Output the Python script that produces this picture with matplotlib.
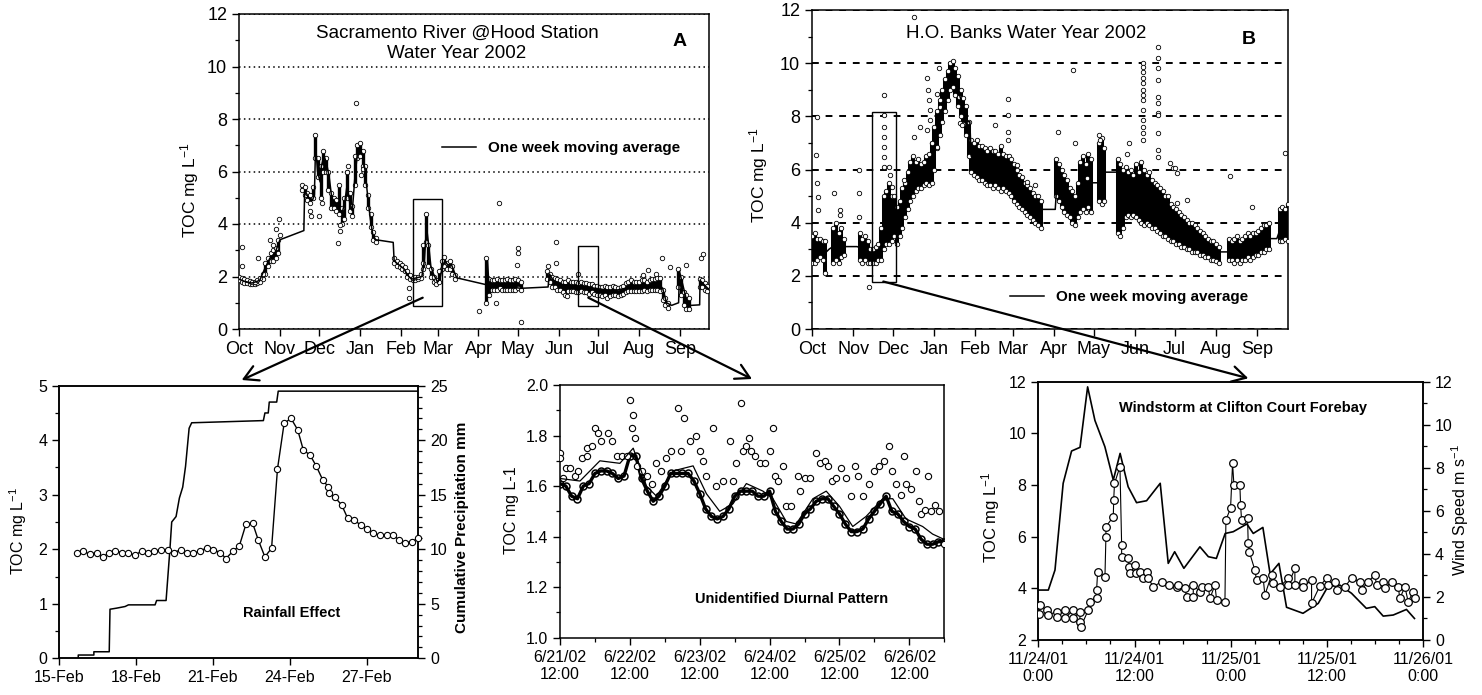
import numpy as np
import matplotlib
matplotlib.use("Agg")
import matplotlib.pyplot as plt
from matplotlib.patches import Rectangle, FancyArrowPatch
from matplotlib.ticker import MultipleLocator, FormatStrFormatter

plt.rcParams['font.family'] = ['Liberation Sans', 'DejaVu Sans']
plt.rcParams['mathtext.fontset'] = 'custom'
plt.rcParams['mathtext.rm'] = 'Liberation Sans'
plt.rcParams['mathtext.it'] = 'Liberation Sans:italic'
plt.rcParams['mathtext.bf'] = 'Liberation Sans:bold'
plt.rcParams['axes.linewidth'] = 1.1

nan = float('nan')

# ---------------- Panel A: Sacramento River @ Hood (2-day samples, low/high envelope) -------------
MONTHS = ['Oct', 'Nov', 'Dec', 'Jan', 'Feb', 'Mar', 'Apr', 'May', 'Jun', 'Jul', 'Aug', 'Sep']
MONTH_START = [0, 31, 61, 92, 123, 151, 182, 212, 243, 273, 304, 335]

A_LO = [1.85, 1.8, 1.75, 1.75, 1.72, 1.72, 1.72, 1.75, 1.8, 1.9, 2.1, 2.4, 2.6, 2.6, 2.7, 2.9,
        nan, nan, nan, nan, nan, nan, nan, nan,
        5.3, 5.1, 4.9, 4.8, 5.0, 6.5, 5.8, 5.0, 6.0, 6.0, 5.3, 4.6, 4.6, 4.5, 4.4, 4.0, 4.2, 5.0, 4.5, 4.3,
        5.5, 6.5, 6.6, 6.2, 5.5, 4.6, 3.9, 3.4, 3.3, nan, nan, nan, nan, nan, nan,
        2.5, 2.4, 2.35, 2.3, 2.2, 2.0, 1.9, 1.85, 1.88, 1.9,
        1.95, 2.3, 3.3, 2.4, 2.0, 1.8, 1.7, 1.8, 2.3, 2.4, 2.3, 2.3, 2.1, 1.9,
        nan, nan, nan, nan, nan, nan, nan, nan, nan, nan, nan,
        1.0, 1.3, 1.5, 1.5, 1.5, 1.55, 1.5, 1.5, 1.5, 1.5, 1.5, 1.5, 1.55, 1.5,
        nan, nan, nan, nan, nan, nan, nan, nan, nan,
        1.9, 1.8, 1.6, 1.6, 1.5, 1.5, 1.4, 1.3, 1.45, 1.45, 1.45, 1.4, 1.4, 1.45, 1.4, 1.4, 1.35, 1.4,
        1.35, 1.3, 1.3, 1.25, 1.3, 1.2, 1.25, 1.3, 1.3, 1.25, 1.3, 1.35, 1.4, 1.45, 1.45, 1.45, 1.45,
        1.45, 1.45, 1.5, 1.45, 1.5, 1.5, 1.5, 1.5, 1.45,
        1.1, 0.9, 0.8, nan, nan, nan, 1.6, 1.3, 0.9, 0.75, 0.75, nan, nan, nan, 1.6, 1.6, 1.5, 1.45]
A_HI = [2.0, 1.95, 1.9, 1.85, 1.82, 1.8, 1.8, 1.85, 1.95, 2.1, 2.5, 2.7, 2.9, 3.0, 3.1, 3.4,
        nan, nan, nan, nan, nan, nan, nan, nan,
        5.5, 5.4, 5.2, 5.1, 5.4, 7.4, 6.5, 6.2, 6.8, 6.5, 6.0, 5.2, 5.0, 4.9, 5.5, 4.6, 5.0, 6.0, 5.2, 4.7,
        6.6, 7.0, 7.1, 6.8, 6.2, 5.1, 4.4, 3.7, 3.45, nan, nan, nan, nan, nan, nan,
        2.7, 2.6, 2.5, 2.45, 2.35, 2.2, 2.05, 1.95, 1.98, 2.0,
        2.1, 3.2, 4.4, 3.2, 2.3, 2.0, 1.85, 2.2, 2.6, 2.75, 2.5, 2.6, 2.4, 2.05,
        nan, nan, nan, nan, nan, nan, nan, nan, nan, nan, nan,
        2.7, 1.9, 1.85, 1.85, 1.9, 1.85, 1.85, 1.85, 1.9, 1.85, 1.85, 1.9, 1.85, 1.8,
        nan, nan, nan, nan, nan, nan, nan, nan, nan,
        2.2, 2.1, 2.0, 1.95, 1.9, 1.85, 1.8, 1.8, 1.85, 1.8, 1.8, 1.8, 1.75, 1.8, 1.75, 1.75, 1.7, 1.7,
        1.65, 1.65, 1.6, 1.6, 1.65, 1.6, 1.6, 1.65, 1.6, 1.55, 1.6, 1.65, 1.75, 1.8, 1.85, 1.8, 1.8,
        1.8, 1.85, 1.85, 1.8, 1.85, 1.9, 1.9, 1.95, 1.95,
        1.5, 1.2, 1.0, nan, nan, nan, 2.3, 2.0, 1.4, 1.3, 1.2, nan, nan, nan, 1.9, 1.85, 1.75, 1.65]

MA_A_DAY = [0, 3.9, 9.8, 15.7, 19.6, 23.5, 27.4, 31.1, 49.3, 49.9, 52.9, 55.8, 57.3, 58.2, 59.7, 61.7,
            62.6, 64.6, 66.6, 68.5, 70.5, 73.4, 76.3, 78.3, 80.3, 82.2, 84.2, 86.1, 88.1, 90.0, 92.0,
            94.0, 95.9, 97.9, 99.8, 101.8, 104.0, 117.2, 117.9, 121.4, 125.3, 128.2, 131.1, 139.0,
            140.9, 142.5, 143.9, 145.8, 147.8, 150.7, 152.7, 154.6, 156.6, 158.5, 161.5, 163.4, 165.4,
            188.6, 188.9, 189.9, 214.3, 234.9, 235.9, 238.8, 244.7, 264.2, 283.8, 293.6, 319.1, 322.0,
            324.9, 328.8, 334.1, 334.7, 337.7, 340.6, 343.5, 350.1, 350.4, 354.3, 357.2]
MA_A_VAL = [1.9, 1.82, 1.75, 1.85, 2.3, 2.7, 2.9, 3.4, 3.75, 5.3, 5.0, 4.9, 5.1, 7.0, 6.0, 5.6,
            6.2, 6.6, 6.3, 5.8, 5.0, 4.8, 4.6, 4.4, 4.8, 5.5, 4.8, 4.5, 5.8, 6.7, 6.9,
            6.6, 6.0, 5.0, 4.2, 3.55, 3.4, 3.3, 2.6, 2.45, 2.3, 2.05, 1.9, 2.0,
            2.6, 3.9, 3.3, 2.4, 2.1, 1.8, 1.9, 2.4, 2.6, 2.45, 2.45, 2.2, 1.95,
            1.68, 2.6, 1.7, 1.55, 1.6, 2.1, 1.85, 1.7, 1.6, 1.45, 1.55, 1.7, 1.55,
            1.0, 0.9, 1.0, 2.2, 1.6, 1.0, 0.9, 0.92, 1.85, 1.65, 1.5]

OUT_A_DAY = [2.1, 2.1, 14.7, 23.5, 25.5, 28.1, 31.1, 30.3, 53.8, 54.7, 60.7, 62.7, 75.0, 76.7, 76.7,
             82.5, 81.7, 88.6, 91.9, 93.0, 94.4, 129.1, 129.1, 140.0, 182.5, 195.7, 197.7, 210.9,
             212.2, 212.2, 214.1, 234.9, 241.2, 241.2, 248.9, 257.7, 310.8, 321.8, 327.4, 340.0,
             351.4, 352.6, 307.1, 317.1]
OUT_A_VAL = [3.14, 2.41, 2.72, 3.4, 3.2, 3.8, 3.6, 4.2, 4.5, 4.3, 4.3, 4.8, 3.29, 3.95, 3.72,
             6.2, 6.0, 8.62, 6.6, 5.85, 6.1, 1.55, 1.2, 2.5, 0.7, 1.0, 4.81, 2.45,
             3.1, 2.9, 0.25, 2.4, 3.3, 2.5, 1.25, 2.1, 2.25, 2.7, 2.35, 2.45,
             2.72, 2.85, 2.05, 2.1]

# ---------------- Panel B: H.O. Banks (2-day samples, low/high envelope) -------------
B_LO = [2.5, 2.5, 2.6, 2.7, 2.6, 2.1, nan, nan, 2.5, 2.6, 2.5, 2.7, 2.8, nan, nan, nan, nan, nan,
        2.6, 2.5, 2.6, 2.5, 2.5, 2.5, 2.5, 2.6, 2.6,
        3.0, 3.2, 3.2, 3.3, 3.5, 3.2, 3.5, 3.8, 4.2, 4.5, 4.8, 5.0, 5.2, 5.3, 5.3, 5.4, 5.5, 5.4, 5.5,
        6.0, 6.8, 7.3, 7.8, 8.2, 8.6, 9.0, 9.1, 8.8, 8.4, 8.0, 7.7, 7.3, 6.5, 5.9, 5.8, 5.7, 5.6, 5.6,
        5.5, 5.4, 5.4, 5.3, 5.4, 5.3, 5.2, 5.3, 5.2, 5.1, 5.0, 4.8, 4.7, 4.6, 4.5, 4.4,
        4.3, 4.2, 4.1, 4.0, 3.9, 3.8, nan, nan, nan, nan, nan, 5.0, 4.8, 4.6, 4.4, 4.3, 4.2, 4.0, 3.9,
        4.2, 4.4, 4.5, 4.4, 4.6, 4.4, nan, nan, 4.8, 4.7, 4.8, nan, nan, nan, nan,
        3.6, 3.5, 3.8, 4.2, 4.3, 4.2, 4.3, 4.2, 4.1, 4.0, 3.9, 4.0, 3.9, 3.8, 3.8, 3.7, 3.6, 3.5, 3.5, 3.4,
        3.3, 3.3, 3.2, 3.2, 3.1, 3.1, 3.0, 3.0, 2.9, 2.9, 2.9, 2.8, 2.8, 2.7, 2.7, 2.6, 2.6, 2.55, 2.5,
        nan, nan, nan, 2.6, 2.6, 2.5, 2.6, 2.5, 2.6, 2.6, 2.7, 2.6, 2.7, 2.8, 2.8, 2.9, 2.9, 3.0, 3.0,
        nan, nan, nan, 3.3, 3.3, 3.4, 3.3]
B_HI = [3.5, 3.6, 3.4, 3.4, 3.3, 3.3, nan, nan, 3.8, 4.0, 3.6, 3.8, 3.4, nan, nan, nan, nan, nan,
        3.6, 3.4, 3.5, 3.3, 3.0, 3.0, 3.1, 3.2, 3.8,
        5.0, 5.2, 5.5, 5.0, 5.0, 4.6, 4.8, 5.3, 5.5, 5.9, 6.3, 6.5, 6.3, 6.4, 6.2, 6.3, 6.5, 6.6, 7.0,
        7.6, 8.2, 8.6, 9.0, 9.4, 9.7, 10.0, 10.1, 9.8, 9.5, 9.0, 8.7, 8.4, 7.8, 7.1, 7.0, 7.1, 6.9, 6.9,
        6.8, 6.7, 6.8, 6.7, 6.7, 6.6, 6.9, 6.6, 6.5, 6.5, 6.4, 6.2, 6.0, 5.8, 5.7, 5.5,
        5.4, 5.3, 5.1, 5.0, 5.0, 4.8, nan, nan, nan, nan, nan, 6.4, 6.2, 6.0, 5.8, 5.6, 5.3, 5.2, 5.0,
        5.5, 6.3, 6.5, 6.2, 6.6, 6.4, nan, nan, 7.0, 7.2, 6.8, nan, nan, nan, nan,
        6.4, 6.2, 6.0, 6.1, 5.9, 6.0, 5.8, 6.2, 5.9, 6.3, 6.0, 5.8, 5.9, 5.6, 5.5, 5.4, 5.3, 5.2, 5.0, 5.0,
        4.7, 4.6, 4.5, 4.4, 4.3, 4.2, 4.1, 4.0, 4.0, 3.9, 3.8, 3.7, 3.6, 3.5, 3.4, 3.3, 3.3, 3.2, 3.1,
        nan, nan, nan, 3.4, 3.3, 3.4, 3.5, 3.3, 3.4, 3.5, 3.6, 3.5, 3.6, 3.6, 3.7, 3.8, 3.9, 3.9, 4.0,
        nan, nan, nan, 4.5, 4.6, 4.5, 4.7]

MA_B_DAY = [0, 4.9, 10.8, 12.8, 15.7, 23.6, 33.9, 39.3, 45.2, 51.0, 55.0, 58.9, 64.8, 70.7, 76.6,
            84.4, 90.3, 94.2, 98.2, 102.1, 106.0, 110.0, 113.9, 116.8, 118.8, 119.8, 127.6, 137.4,
            147.3, 157.1, 166.9, 172.8, 183.1, 184.6, 192.4, 198.3, 204.2, 210.1, 215.7, 217.9,
            220.7, 229.4, 231.7, 239.5, 249.4, 259.2, 269.0, 278.8, 288.6, 298.4, 307.3, 313.5,
            324.0, 333.8, 344.9, 349.9, 353.4, 358.3]
MA_B_VAL = [3.0, 3.0, 2.9, 3.0, 3.1, 3.1, 3.1, 3.0, 2.8, 2.9, 3.5, 4.0, 4.0, 4.8, 5.6,
            5.8, 6.1, 7.3, 8.3, 9.0, 9.6, 9.0, 8.3, 7.8, 7.8, 6.5, 6.2, 6.0,
            5.8, 5.1, 4.6, 4.5, 4.5, 5.7, 5.0, 4.5, 5.4, 5.5, 5.5, 5.9,
            5.9, 5.9, 5.0, 5.0, 5.0, 4.5, 4.1, 3.7, 3.4, 3.0, 2.9, 2.9,
            3.0, 3.2, 3.4, 3.4, 3.9, 4.0]

OUT_B_DAY = [3.7, 3.2, 3.7, 4.2, 4.2, 16.3, 20.8, 21.3, 35.1, 35.6, 35.1, 42.6, 53.9, 53.9, 53.9,
             54.4, 54.4, 53.9, 54.4, 57.6, 58.4, 60.2, 68.9, 76.5, 76.5, 81.5, 86.5, 87.3, 87.8,
             88.5, 89.0, 86.5, 90.3, 94.0, 95.3, 94.0, 96.5, 110.3, 111.6, 112.8, 137.9, 147.9,
             147.9, 147.9, 147.5, 154.2, 161.8, 168.0, 185.5, 197.6, 196.8, 206.8, 215.7, 217.0,
             238.3, 237.0,
             249.5, 249.5, 249.5, 249.5, 249.5, 249.5, 249.5, 249.5, 249.5, 249.5, 249.5, 249.5, 249.5,
             260.7, 260.7, 260.7, 260.7, 260.7, 260.7, 260.7, 260.7, 260.7, 260.7, 260.7,
             272.0, 269.6, 274.6, 314.7, 331.0, 356.1, 282.1, 274.6, 273.3]
OUT_B_VAL = [7.99, 6.55, 5.48, 4.98, 4.48, 5.13, 4.48, 4.29, 5.98, 5.1, 4.23, 1.57, 8.8, 8.05, 7.6,
             7.23, 6.86, 6.48, 6.1, 6.1, 5.79, 5.35, 5.6, 11.75, 7.23, 7.6, 9.43, 9.0, 8.6,
             8.24, 7.86, 7.49, 7.0, 6.86, 9.8, 8.84, 8.36, 8.74, 7.74, 7.67, 7.67, 8.65,
             8.05, 7.42, 7.11, 6.17, 5.54, 5.42, 7.42, 6.98, 9.74, 5.67, 7.3, 7.1,
             6.98, 6.6,
             10.0, 9.87, 9.68, 9.43, 9.24, 8.99, 8.8, 8.61, 8.24, 7.86, 7.61, 7.36, 7.11,
             10.62, 10.18, 9.8, 9.37, 8.74, 8.49, 8.11, 8.05, 7.36, 6.73, 6.48,
             6.04, 6.23, 5.86, 5.77, 4.58, 6.61, 4.85, 4.73, 6.04]

# ---------------- Rainfall effect (days after 15-Feb) -------------
RAIN_TICKS = ['15-Feb', '18-Feb', '21-Feb', '24-Feb', '27-Feb']
RAIN_TOC_DAY = [0.68, 0.94, 1.20, 1.46, 1.69, 1.95, 2.17, 2.43, 2.70, 2.96, 3.22, 3.45, 3.71, 3.97,
                4.23, 4.48, 4.74, 4.97, 5.23, 5.49, 5.76, 6.02, 6.28, 6.51, 6.77, 7.03, 7.29, 7.55,
                7.77, 8.03, 8.29, 8.52, 8.78, 9.05, 9.31, 9.53, 9.79, 10.03, 10.29, 10.51, 10.55,
                10.77, 11.03, 11.26, 11.52, 11.77, 12.01, 12.27, 12.53, 12.79, 13.02, 13.28, 13.50,
                13.76, 14.02]
RAIN_TOC = [1.93, 1.96, 1.91, 1.94, 1.86, 1.93, 1.97, 1.94, 1.93, 1.89, 1.97, 1.93, 1.96, 1.99,
            1.99, 1.94, 1.99, 1.93, 1.93, 1.96, 2.03, 1.99, 1.94, 1.83, 1.96, 2.06, 2.46, 2.48,
            2.17, 1.86, 2.02, 3.47, 4.31, 4.40, 4.19, 3.82, 3.73, 3.53, 3.27, 3.14, 3.04,
            2.95, 2.81, 2.57, 2.54, 2.44, 2.38, 2.29, 2.26, 2.26, 2.26, 2.17, 2.12,
            2.14, 2.2]
PRECIP_DAY = [0.74, 0.74, 1.35, 1.35, 1.95, 1.98, 2.24, 2.57, 2.7, 3.74, 3.8, 4.17, 4.32, 4.39, 4.56,
              4.69, 4.82, 4.93, 5.07, 5.17, 7.97, 8.03, 8.16, 8.2, 8.49, 8.55, 14.02]
PRECIP_MM = [0, 0.3, 0.3, 0.6, 0.6, 4.5, 4.6, 4.75, 4.9, 4.9, 5.3, 5.3, 10.0, 12.5, 13.0,
             14.7, 15.7, 17.6, 21.1, 21.6, 21.8, 22.5, 22.5, 23.5, 23.5, 24.5, 24.5]

# ---------------- Diurnal pattern (days after 6/21/02 12:00) -------------
DIUR_TICKS = ['6/21/02\n12:00', '6/22/02\n12:00', '6/23/02\n12:00', '6/24/02\n12:00',
              '6/25/02\n12:00', '6/26/02\n12:00']
DIUR_LOW = [1.61, 1.60, 1.56, 1.55, 1.60, 1.61, 1.65, 1.66, 1.66, 1.65, 1.63, 1.64, 1.72, 1.72,
            1.63, 1.58, 1.54, 1.56, 1.60, 1.65, 1.65, 1.65, 1.65, 1.62, 1.57, 1.51, 1.48, 1.47,
            1.48, 1.51, 1.56, 1.58, 1.58, 1.58, 1.56, 1.56, 1.58, 1.50, 1.46, 1.43, 1.43, 1.45,
            1.49, 1.51, 1.54, 1.55, 1.55, 1.52, 1.49, 1.45, 1.42, 1.42, 1.43, 1.47, 1.50, 1.53,
            1.56, 1.50, 1.49, 1.46, 1.44, 1.43, 1.39, 1.37, 1.37, 1.38, 1.38]
UP_T = [0.0, 0.0, 0.048, 0.086, 0.143, 0.214, 0.262, 0.31, 0.381, 0.381, 0.452, 0.5, 0.548, 0.586,
        0.681, 0.738, 0.81, 0.881, 0.952, 1.0, 1.024, 1.048, 1.071, 1.095, 1.167, 1.238, 1.31,
        1.381, 1.452, 1.524, 1.595, 1.69, 1.738, 1.771, 1.857, 1.952, 2.0, 2.048, 2.095, 2.19,
        2.238, 2.333, 2.438, 2.476, 2.524, 2.586, 2.619, 2.667, 2.705, 2.738, 2.786, 2.857, 2.929,
        3.01, 3.048, 3.071, 3.119, 3.19, 3.238, 3.31, 3.405, 3.429, 3.5, 3.571, 3.657, 3.714,
        3.786, 3.833, 3.895, 3.952, 4.024, 4.095, 4.167, 4.229, 4.262, 4.333, 4.419, 4.5, 4.571,
        4.643, 4.705, 4.752, 4.81, 4.881, 4.919, 4.952, 5.024, 5.095, 5.133, 5.167, 5.229, 5.262,
        5.31, 5.371, 5.429, 5.49]
UP_V = [1.73, 1.71, 1.63, 1.67, 1.67, 1.64, 1.66, 1.71, 1.72, 1.75, 1.76, 1.83, 1.81, 1.78,
        1.81, 1.78, 1.72, 1.72, 1.72, 1.94, 1.83, 1.88, 1.79, 1.68, 1.66, 1.64, 1.61,
        1.69, 1.66, 1.71, 1.74, 1.91, 1.74, 1.87, 1.78, 1.80, 1.74, 1.70, 1.64, 1.83,
        1.60, 1.62, 1.78, 1.62, 1.69, 1.93, 1.74, 1.76, 1.79, 1.74, 1.72, 1.69, 1.69,
        1.74, 1.83, 1.64, 1.62, 1.68, 1.52, 1.52, 1.64, 1.58, 1.63, 1.63, 1.73, 1.69,
        1.70, 1.68, 1.62, 1.63, 1.67, 1.63, 1.56, 1.68, 1.64, 1.56, 1.61, 1.66, 1.68,
        1.70, 1.76, 1.66, 1.61, 1.565, 1.72, 1.61, 1.59, 1.66, 1.54, 1.49, 1.505, 1.64,
        1.50, 1.525, 1.50, 1.37]
THIN_T = [0, 0.286, 0.571, 0.857, 1.048, 1.238, 1.381, 1.619, 1.905, 2.095, 2.286, 2.476, 2.667,
          2.905, 3.048, 3.238, 3.381, 3.619, 3.81, 4.0, 4.19, 4.381, 4.619, 4.762, 4.952, 5.19,
          5.333, 5.49]
THIN_V = [1.63, 1.62, 1.70, 1.69, 1.75, 1.60, 1.56, 1.66, 1.68, 1.57, 1.50, 1.53, 1.61,
          1.58, 1.55, 1.46, 1.45, 1.55, 1.58, 1.52, 1.44, 1.48, 1.55, 1.55, 1.47, 1.44,
          1.41, 1.39]

# ---------------- Windstorm (hours after 11/24/01 0:00) -------------
STORM_TICKS = ['11/24/01\n0:00', '11/24/01\n12:00', '11/25/01\n0:00', '11/25/01\n12:00',
               '11/26/01\n0:00']
WIND_H = [0, 1.25, 2.08, 3.1, 4.15, 5.2, 6.15, 7.06, 8.3, 9.35, 10.2, 11.2, 12.25, 13.5, 15.2, 16.2,
          17.0, 18.15, 20.15, 21.2, 22.2, 23.3, 24.3, 26.0, 26.8, 28.0, 28.9, 30.0, 30.95, 33.0,
          34.9, 36.1, 37.6, 39.05, 40.9, 41.95, 43.0, 44.25, 45.9, 46.9]
WIND_MS = [2.32, 2.32, 3.25, 7.28, 8.78, 8.95, 11.76, 10.2, 8.98, 7.43, 8.67, 7.12, 6.38, 6.47, 7.28,
           3.56, 4.1, 3.33, 4.33, 3.87, 3.79, 4.95, 5.03, 5.39, 4.95, 5.23, 3.07, 3.56, 1.52, 1.24,
           1.7, 2.48, 2.55, 2.17, 1.47, 1.55, 1.11, 1.16, 1.42, 1.0]
STORM_H = [0.12, 0.21, 1.04, 1.25, 2.29, 2.29, 3.32, 3.32, 4.36, 4.36, 5.19, 5.19, 5.32, 6.23, 6.44,
           7.27, 7.27, 7.4, 8.31, 8.43, 8.43, 9.35, 9.4, 9.5, 10.18, 10.39, 10.39, 11.22, 11.3, 11.42,
           12.05, 12.17, 12.67, 13.09, 13.5, 13.71, 14.33, 15.37, 16.33, 17.24, 17.45, 18.28, 18.49,
           19.32, 19.32, 20.15, 20.36, 21.19, 21.4, 22.02, 22.23, 23.27, 23.39, 23.97, 24.22, 24.39,
           25.13, 25.22, 25.34, 26.09, 26.17, 26.3, 27.0, 27.21, 28.04, 28.25, 29.08, 29.29, 30.12,
           31.16, 31.16, 31.99, 31.99, 33.03, 33.03, 34.07, 34.07, 35.1, 35.94, 36.14, 36.98, 37.18,
           38.22, 39.05, 40.09, 40.3, 41.13, 41.96, 42.17, 43.0, 43.21, 44.04, 44.87, 45.08, 45.7,
           46.12, 46.74, 46.95]
STORM_TOC = [2.99, 3.35, 3.16, 2.97, 3.1, 2.9, 3.16, 2.84, 3.16, 2.84, 3.1, 2.71, 2.52, 3.16, 3.48,
             3.61, 3.94, 4.65, 4.45, 6.0, 6.39, 6.77, 7.42, 8.06, 8.71, 5.68, 5.23, 5.16, 4.84, 4.58,
             4.9, 4.58, 4.65, 4.39, 4.65, 4.39, 4.06, 4.26, 4.13, 4.06, 4.13, 4.0, 3.68,
             3.68, 4.13, 3.87, 4.06, 4.06, 3.61, 4.13, 3.55, 3.48, 6.65, 7.1, 8.84, 8.0,
             8.0, 7.23, 6.65, 6.71, 5.74, 5.42, 4.71, 4.32, 4.39, 3.74, 4.52, 4.19, 4.06,
             4.39, 4.13, 4.77, 4.13, 4.26, 4.06, 4.32, 3.42, 4.09, 4.39, 4.13, 4.26, 3.94,
             4.06, 4.39, 4.26, 3.94, 4.26, 4.52, 4.13, 4.26, 4.0, 4.26, 4.06, 3.61, 4.06,
             3.48, 3.87, 3.61]

# =====================================================================
W, H = 1482, 695
fig = plt.figure(figsize=(W / 100, H / 100), dpi=100)


def px_axes(l, t, r, b):
    return fig.add_axes([l / W, 1 - b / H, (r - l) / W, (b - t) / H])


def fpt(x, y):
    return (x / W, 1 - y / H)


def style_ticks(ax, size, major=5, minor=3):
    ax.tick_params(which='major', direction='out', length=major, width=1.0, labelsize=size,
                   colors='black')
    ax.tick_params(which='minor', direction='out', length=minor, width=0.9)


def envelope(ax, day, lo, hi, lw):
    ax.vlines(day, lo, hi, colors='black', lw=lw, zorder=2)
    for arr in (lo, hi):
        ax.plot(day, arr, 'o', ms=3.2, mfc='white', mec='black', mew=0.6, ls='none', zorder=3)


label_kw = dict(fontsize=12.5)

# ---------------- Panel A -----------------
axA = px_axes(239, 14, 709, 329)
dayA = np.arange(len(A_LO)) * 2
envelope(axA, dayA, np.array(A_LO), np.array(A_HI), 2.4)
axA.plot(OUT_A_DAY, OUT_A_VAL, 'o', ms=3.2, mfc='white', mec='black', mew=0.6, ls='none', zorder=3)
lnA, = axA.plot(MA_A_DAY, MA_A_VAL, color='black', lw=1.1, zorder=4, label='One week moving average')
axA.set_xlim(0, 357.2)
axA.set_ylim(0, 12)
axA.set_xticks(MONTH_START)
axA.set_xticklabels(MONTHS)
axA.yaxis.set_major_locator(MultipleLocator(2))
axA.yaxis.set_minor_locator(MultipleLocator(1))
axA.grid(axis='y', which='major', ls=(0, (1, 2.2)), lw=1.1, color='black')
style_ticks(axA, 13)
axA.set_ylabel(r'TOC mg L$^{-1}$', **label_kw)
axA.yaxis.set_label_coords(-0.105, 0.44)
axA.yaxis.label.set_va('center')
axA.text(0.464, 0.939, 'Sacramento River @Hood Station', transform=axA.transAxes,
         ha='center', va='center', fontsize=13.5)
axA.text(0.464, 0.875, 'Water Year 2002', transform=axA.transAxes,
         ha='center', va='center', fontsize=13.5)
axA.text(0.938, 0.912, 'A', transform=axA.transAxes, ha='center', va='center',
         fontsize=14, fontweight='bold')
axA.legend(handles=[lnA], loc='center left', bbox_to_anchor=(0.432, 0.575), frameon=False,
           prop=dict(weight='bold', size=11), handlelength=2.2, handletextpad=0.8,
           borderpad=0, borderaxespad=0)
axA.add_patch(Rectangle((132.4, 0.88), 154.0 - 132.4, 4.94 - 0.88, fill=False, ec='black',
                        lw=1.0, zorder=5))
axA.add_patch(Rectangle((257.7, 0.88), 272.9 - 257.7, 3.18 - 0.88, fill=False, ec='black',
                        lw=1.0, zorder=5))

# ---------------- Panel B -----------------
axB = px_axes(812, 10, 1288, 329)
dayB = np.arange(len(B_LO)) * 2
envelope(axB, dayB, np.array(B_LO), np.array(B_HI), 2.9)
axB.plot(OUT_B_DAY, OUT_B_VAL, 'o', ms=3.2, mfc='white', mec='black', mew=0.6, ls='none', zorder=3)
lnB, = axB.plot(MA_B_DAY, MA_B_VAL, color='black', lw=1.1, zorder=4, label='One week moving average')
axB.set_xlim(0, 358.3)
axB.set_ylim(0, 12)
axB.set_xticks(MONTH_START)
axB.set_xticklabels(MONTHS)
axB.yaxis.set_major_locator(MultipleLocator(2))
axB.yaxis.set_minor_locator(MultipleLocator(1))
axB.grid(axis='y', which='major', ls=(0, (3.5, 3.5)), lw=1.4, color='black')
style_ticks(axB, 13)
axB.set_ylabel(r'TOC mg L$^{-1}$', **label_kw)
axB.yaxis.set_label_coords(-0.113, 0.483)
axB.yaxis.label.set_va('center')
axB.text(0.451, 0.927, 'H.O. Banks Water Year 2002', transform=axB.transAxes,
         ha='center', va='center', fontsize=13.5)
axB.text(0.917, 0.906, 'B', transform=axB.transAxes, ha='center', va='center',
         fontsize=14, fontweight='bold')
axB.legend(handles=[lnB], loc='center left', bbox_to_anchor=(0.416, 0.100), frameon=False,
           prop=dict(weight='bold', size=11), handlelength=2.2, handletextpad=0.8,
           borderpad=0, borderaxespad=0)
axB.add_patch(Rectangle((45.1, 1.78), 63.2 - 45.1, 8.18 - 1.78, fill=False, ec='black',
                        lw=1.0, zorder=5))

# ---------------- Rainfall effect -----------------
axL = px_axes(59.3, 385.7, 418.3, 658.3)
axR = axL.twinx()
axR.plot(PRECIP_DAY, PRECIP_MM, color='black', lw=1.1)
axL.plot(RAIN_TOC_DAY, RAIN_TOC, '-o', color='black', lw=1.0, ms=4.5, mfc='white', mew=0.8,
         zorder=3, clip_on=False)
axL.set_zorder(axR.get_zorder() + 1)
axL.patch.set_visible(False)
axL.set_xlim(0, 14.02)
axL.set_ylim(0, 5)
axR.set_ylim(0, 25)
axL.set_xticks([0, 3, 6, 9, 12])
axL.set_xticklabels(RAIN_TICKS)
axL.yaxis.set_major_locator(MultipleLocator(1))
axL.yaxis.set_minor_locator(MultipleLocator(0.5))
axR.yaxis.set_major_locator(MultipleLocator(5))
axR.yaxis.set_minor_locator(MultipleLocator(1))
style_ticks(axL, 11.5, 5, 3)
style_ticks(axR, 11.5, 5, 3)
axL.set_ylabel(r'TOC mg L$^{-1}$', fontsize=11.5)
axL.yaxis.set_label_coords(-0.115, 0.467)
axL.yaxis.label.set_va('center')
axR.set_ylabel('Cumulative Precipitation mm', fontsize=11, fontweight='bold')
axR.yaxis.set_label_coords(1.122, 0.482)
axR.yaxis.label.set_va('center')
axL.text(0.648, 0.166, 'Rainfall Effect', transform=axL.transAxes, ha='center', va='center',
         fontsize=10.5, fontweight='bold')

# ---------------- Diurnal pattern -----------------
axM = px_axes(560, 385, 944.3, 637.7)
tlow = np.arange(len(DIUR_LOW)) / 12
axM.plot(tlow, DIUR_LOW, '-o', color='black', lw=2.4, ms=5, mfc='none', mew=1.1, zorder=3)
axM.plot(UP_T, UP_V, 'o', ms=4.5, mfc='white', mec='black', mew=0.8, ls='none', zorder=3)
axM.plot(THIN_T, THIN_V, color='black', lw=0.9, zorder=4)
axM.set_xlim(0, 5.5)
axM.set_ylim(1.0, 2.0)
axM.set_xticks([0, 1, 2, 3, 4, 5])
axM.set_xticklabels(DIUR_TICKS)
axM.xaxis.set_minor_locator(MultipleLocator(0.5))
axM.yaxis.set_major_locator(MultipleLocator(0.2))
axM.yaxis.set_minor_locator(MultipleLocator(0.1))
axM.yaxis.set_major_formatter(FormatStrFormatter('%.1f'))
style_ticks(axM, 11.5, 5, 3)
axM.set_ylabel('TOC mg L-1', fontsize=11.5)
axM.yaxis.set_label_coords(-0.125, 0.505)
axM.yaxis.label.set_va('center')
axM.text(0.603, 0.152, 'Unidentified Diurnal Pattern', transform=axM.transAxes, ha='center',
         va='center', fontsize=10.5, fontweight='bold')

# ---------------- Windstorm -----------------
axW = px_axes(1038.3, 381.7, 1423.3, 640)
axW2 = axW.twinx()
axW2.plot(WIND_H, WIND_MS, color='black', lw=1.2)
axW.plot(STORM_H, STORM_TOC, '-o', color='black', lw=0.8, ms=5.5, mfc='white', mew=0.9, zorder=3)
axW.set_zorder(axW2.get_zorder() + 1)
axW.patch.set_visible(False)
axW.set_xlim(0, 48)
axW.set_ylim(2, 12)
axW2.set_ylim(0, 12)
axW.set_xticks([0, 12, 24, 36, 48])
axW.set_xticklabels(STORM_TICKS)
axW.xaxis.set_minor_locator(MultipleLocator(3))
axW.yaxis.set_major_locator(MultipleLocator(2))
axW2.yaxis.set_major_locator(MultipleLocator(2))
axW2.yaxis.set_minor_locator(MultipleLocator(1))
style_ticks(axW, 11.5, 5, 3)
style_ticks(axW2, 11.5, 5, 3)
axW.set_ylabel(r'TOC mg L$^{-1}$', fontsize=12)
axW.yaxis.set_label_coords(-0.125, 0.476)
axW.yaxis.label.set_va('center')
axW2.set_ylabel(r'Wind Speed m s$^{-1}$', fontsize=11.5)
axW2.yaxis.set_label_coords(1.095, 0.503)
axW2.yaxis.label.set_va('center')
axW.text(0.532, 0.897, 'Windstorm at Clifton Court Forebay', transform=axW.transAxes,
         ha='center', va='center', fontsize=10.5, fontweight='bold')

# ---------------- Connecting arrows -----------------
for (x0, y0), (x1, y1) in [((422.7, 297.7), (241.7, 380)),
                           ((588.3, 297.7), (752, 379)),
                           ((883.3, 281.5), (1248.3, 378.3))]:
    arr = FancyArrowPatch(fpt(x0, y0), fpt(x1, y1), transform=fig.transFigure,
                          arrowstyle='->,head_length=0.5,head_width=0.28', mutation_scale=20,
                          lw=1.6, color='black', shrinkA=0, shrinkB=0, zorder=10)
    fig.add_artist(arr)

fig.savefig('out.png', dpi=100)
